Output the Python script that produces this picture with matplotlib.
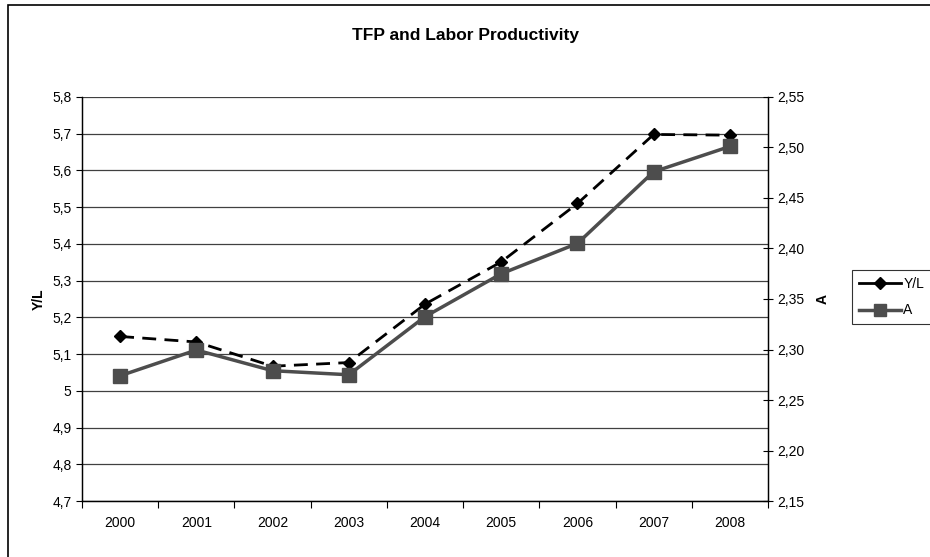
import matplotlib.pyplot as plt
from matplotlib.lines import Line2D
from matplotlib.patches import Rectangle
from matplotlib.ticker import FuncFormatter, MultipleLocator

plt.rcParams['font.family'] = ['Liberation Sans', 'DejaVu Sans']

# data
years = ['2000', '2001', '2002', '2003', '2004', '2005', '2006', '2007', '2008']
labor_prod = [5.148, 5.133, 5.067, 5.077, 5.236, 5.351, 5.510, 5.698, 5.696]
tfp = [2.274, 2.2995, 2.279, 2.275, 2.3325, 2.375, 2.405, 2.476, 2.501]

fig = plt.figure(figsize=(9.3, 5.57), dpi=100)
ax = fig.add_axes([0.0882, 0.1005, 0.7376, 0.7254])
ax2 = ax.twinx()

x = list(range(len(years)))

# gridlines for left axis
ax.set_ylim(4.7, 5.8)
ax.yaxis.set_major_locator(MultipleLocator(0.1))
ax.grid(axis='y', color='#404040', linewidth=0.9)
ax.set_axisbelow(True)

ax.plot(x, labor_prod, color='black', linestyle=(0, (5, 3)), linewidth=2,
        marker='D', markersize=6, zorder=3)
ax2.plot(x, tfp, color='#4d4d4d', linestyle='-', linewidth=2.5,
         marker='s', markersize=10, zorder=3)

ax.set_xlim(-0.5, 8.5)
ax.set_xticks(x)
ax.set_xticklabels(years, fontsize=10)
ax.set_xticks([i - 0.5 for i in range(len(years) + 1)], minor=True)
ax.tick_params(axis='x', which='major', length=0, pad=11)
ax.tick_params(axis='x', which='minor', length=5, width=0.8, direction='out')

ax.yaxis.set_major_formatter(FuncFormatter(lambda v, p: ('%g' % round(v, 2)).replace('.', ',')))
ax.tick_params(axis='y', length=4, width=0.8, labelsize=10, direction='out')

ax2.set_ylim(2.15, 2.55)
ax2.yaxis.set_major_locator(MultipleLocator(0.05))
ax2.yaxis.set_major_formatter(FuncFormatter(lambda v, p: ('%.2f' % v).replace('.', ',')))
ax2.tick_params(axis='y', length=7, width=0.8, labelsize=10, direction='inout')

for a in (ax, ax2):
    a.spines['top'].set_visible(False)
    for s in ('left', 'right', 'bottom'):
        a.spines[s].set_color('black')
        a.spines[s].set_linewidth(0.9)

ax.set_ylabel('Y/L', fontsize=10, fontweight='bold', labelpad=5)
ax2.set_ylabel('A', fontsize=10, fontweight='bold', labelpad=8, rotation=90)

fig.text(0.5, 0.937, 'TFP and Labor Productivity', ha='center', va='center',
         fontsize=12.5, fontweight='bold')

handles = [
    Line2D([], [], color='black', linewidth=2, marker='D', markersize=6),
    Line2D([], [], color='#4d4d4d', linewidth=2.5, marker='s', markersize=9),
]
leg = fig.legend(handles, ['Y/L', 'A'], loc='upper left',
                 bbox_to_anchor=(852 / 930, 1 - 270 / 557), fontsize=10,
                 frameon=True, fancybox=False, handlelength=3.0,
                 handletextpad=0.2, borderpad=0.5, labelspacing=0.9,
                 borderaxespad=0)
leg.get_frame().set_edgecolor('black')
leg.get_frame().set_linewidth(0.8)

# outer chart border (clipped at right and bottom as in the original)
fig.patches.append(Rectangle((8 / 930, -0.05), 1.0, 1 - 5 / 557 + 0.05,
                             transform=fig.transFigure, fill=False,
                             edgecolor='black', linewidth=1.2))

fig.savefig('out.png', dpi=100)
